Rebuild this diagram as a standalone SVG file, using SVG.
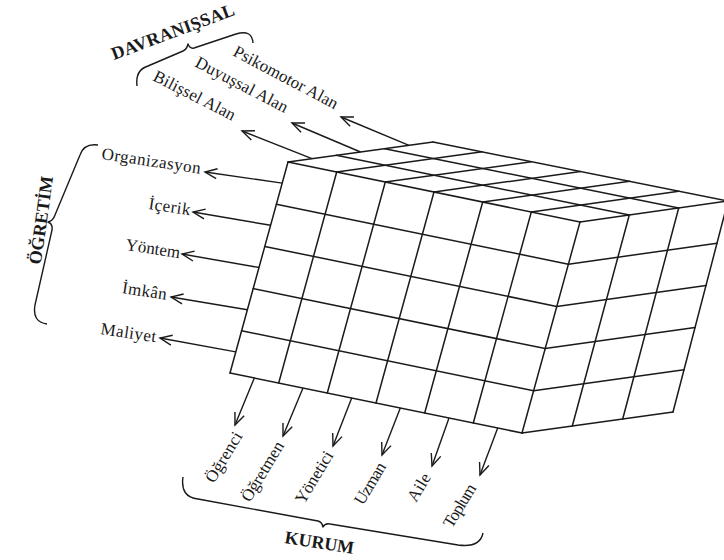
<svg xmlns="http://www.w3.org/2000/svg" width="724" height="560" viewBox="0 0 724 560">
  <style>
    .grid { fill: none; stroke: #1a1a1a; stroke-width: 1.5; stroke-linecap: round; }
    .face { fill: #ffffff; stroke: none; }
    .arrow { fill: none; stroke: #1a1a1a; stroke-width: 1.4; marker-end: url(#head); }
    .brace { fill: none; stroke: #1a1a1a; stroke-width: 1.4; stroke-linejoin: round; }
    .lbl { font-family: "Liberation Serif", "Times New Roman", serif; font-size: 17px; fill: #1a1a1a; }
    .ttl { font-family: "Liberation Serif", "Times New Roman", serif; font-size: 18px; font-weight: bold; fill: #1a1a1a; }
  </style>
  <defs>
    <marker id="head" viewBox="-13 -6 14 12" refX="0" refY="0" markerWidth="14" markerHeight="12" markerUnits="userSpaceOnUse" orient="auto" overflow="visible">
      <path d="M-12,-5 L0,0 L-12,5" fill="none" stroke="#1a1a1a" stroke-width="1.4" stroke-linejoin="miter"/>
    </marker>
  </defs>
  <rect width="724" height="560" fill="#ffffff"/>

  <!-- Cube: front face 6x5, top face 6x3, right face 3x5 -->
  <g id="cube">
    <polygon class="face" points="288,162 580,222 522,433 230,373"/>
    <polygon class="face" points="288,162 433,142 728,201 580,222"/>
    <polygon class="face" points="580,222 728,201 673,412 522,433"/>
    <g class="grid">
      <!-- front face columns -->
      <line x1="288" y1="162" x2="230" y2="373"/>
      <line x1="336.7" y1="172" x2="278.7" y2="383"/>
      <line x1="385.3" y1="182" x2="327.3" y2="393"/>
      <line x1="434" y1="192" x2="376" y2="403"/>
      <line x1="482.7" y1="202" x2="424.7" y2="413"/>
      <line x1="531.3" y1="212" x2="473.3" y2="423"/>
      <line x1="580" y1="222" x2="522" y2="433"/>
      <!-- front face rows -->
      <line x1="288" y1="162" x2="580" y2="222"/>
      <line x1="276.4" y1="204.2" x2="568.4" y2="264.2"/>
      <line x1="264.8" y1="246.4" x2="556.8" y2="306.4"/>
      <line x1="253.2" y1="288.6" x2="545.2" y2="348.6"/>
      <line x1="241.6" y1="330.8" x2="533.6" y2="390.8"/>
      <line x1="230" y1="373" x2="522" y2="433"/>
      <!-- top face, front-to-back -->
      <line x1="288" y1="162" x2="433" y2="142"/>
      <line x1="336.7" y1="172" x2="482.2" y2="151.8"/>
      <line x1="385.3" y1="182" x2="531.3" y2="161.7"/>
      <line x1="434" y1="192" x2="580.5" y2="171.5"/>
      <line x1="482.7" y1="202" x2="629.7" y2="181.3"/>
      <line x1="531.3" y1="212" x2="678.8" y2="191.2"/>
      <line x1="580" y1="222" x2="728" y2="201"/>
      <!-- top face, depth rows -->
      <line x1="336.3" y1="155.3" x2="629.3" y2="215"/>
      <line x1="384.7" y1="148.7" x2="678.7" y2="208"/>
      <line x1="433" y1="142" x2="728" y2="201"/>
      <!-- right face columns -->
      <line x1="629.3" y1="215" x2="572.3" y2="426"/>
      <line x1="678.7" y1="208" x2="622.7" y2="419"/>
      <line x1="728" y1="201" x2="673" y2="412"/>
      <!-- right face rows -->
      <line x1="568.4" y1="264.2" x2="717" y2="243.2"/>
      <line x1="556.8" y1="306.4" x2="706" y2="285.4"/>
      <line x1="545.2" y1="348.6" x2="695" y2="327.6"/>
      <line x1="533.6" y1="390.8" x2="684" y2="369.8"/>
      <line x1="522" y1="433" x2="673" y2="412"/>
    </g>
  </g>

  <!-- Connectors -->
  <g id="connectors">
    <!-- behavioural domains, from the top face edge -->
    <line class="arrow" x1="312" y1="158.7" x2="242" y2="131"/>
    <line class="arrow" x1="360.5" y1="152" x2="292" y2="123"/>
    <line class="arrow" x1="409" y1="145.3" x2="341" y2="117"/>
    <!-- instruction, from the left edge -->
    <line class="arrow" x1="282.2" y1="183.1" x2="205" y2="172"/>
    <line class="arrow" x1="270.6" y1="225.3" x2="193" y2="212"/>
    <line class="arrow" x1="259" y1="267.5" x2="182" y2="254"/>
    <line class="arrow" x1="247.4" y1="309.7" x2="171" y2="297"/>
    <line class="arrow" x1="235.8" y1="351.9" x2="160" y2="338"/>
    <!-- institution, from the bottom edge -->
    <line class="arrow" x1="254.3" y1="378" x2="235" y2="425"/>
    <line class="arrow" x1="303" y1="388" x2="283" y2="436"/>
    <line class="arrow" x1="351.7" y1="398" x2="333" y2="446"/>
    <line class="arrow" x1="400.3" y1="408" x2="382" y2="455"/>
    <line class="arrow" x1="449" y1="418" x2="432" y2="466"/>
    <line class="arrow" x1="497.7" y1="428" x2="480" y2="475"/>
  </g>

  <!-- Behavioural group -->
  <g id="davranissal">
    <path class="brace" d="M137,86 Q135,70 148,66 L183,51 Q187,49 188,44 Q190,49 194,48 L236,34 Q252,29 253,43"/>
    <text class="ttl" transform="translate(114,60) rotate(-20.4)" textLength="130" lengthAdjust="spacing">DAVRANIŞSAL</text>
  </g>
  <g id="bilissel"><text class="lbl" transform="translate(152,80) rotate(27)" textLength="90" lengthAdjust="spacing">Bilişsel Alan</text></g>
  <g id="duyussal"><text class="lbl" transform="translate(194,66) rotate(27.5)" textLength="102" lengthAdjust="spacing">Duyuşsal Alan</text></g>
  <g id="psikomotor"><text class="lbl" transform="translate(232,55) rotate(28)" textLength="116" lengthAdjust="spacing">Psikomotor Alan</text></g>

  <!-- Instruction group -->
  <g id="ogretim">
    <path class="brace" d="M98,145 Q84,143 80,155 L55,215 Q53,221 48,222 Q53,224 52,230 L35,305 Q32,322 47,324"/>
    <text class="ttl" transform="translate(47,221) rotate(-82)" text-anchor="middle">ÖĞRETİM</text>
  </g>
  <g id="organizasyon"><text class="lbl" transform="translate(101,159) rotate(8.5)" textLength="100" lengthAdjust="spacing">Organizasyon</text></g>
  <g id="icerik"><text class="lbl" transform="translate(148,209) rotate(8.5)" textLength="42" lengthAdjust="spacing">İçerik</text></g>
  <g id="yontem"><text class="lbl" transform="translate(125,250) rotate(8.5)" textLength="55" lengthAdjust="spacing">Yöntem</text></g>
  <g id="imkan"><text class="lbl" transform="translate(121.5,293) rotate(8.5)" textLength="45" lengthAdjust="spacing">İmkân</text></g>
  <g id="maliyet"><text class="lbl" transform="translate(100,334) rotate(8.5)" textLength="56" lengthAdjust="spacing">Maliyet</text></g>

  <!-- Institution group -->
  <g id="kurum">
    <path class="brace" d="M183,477 Q180,497 198,499 L318,521 Q322,522 323,527 Q325,523 330,524 L458,545 Q480,548 483,533"/>
    <text class="ttl" transform="translate(284,543) rotate(9)" textLength="70" lengthAdjust="spacing">KURUM</text>
  </g>
  <g id="ogrenci"><text class="lbl" transform="translate(214,484) rotate(-59)" textLength="56" lengthAdjust="spacing">Öğrenci</text></g>
  <g id="ogretmen"><text class="lbl" transform="translate(250,503) rotate(-59)" textLength="67" lengthAdjust="spacing">Öğretmen</text></g>
  <g id="yonetici"><text class="lbl" transform="translate(304,505) rotate(-59)" textLength="58" lengthAdjust="spacing">Yönetici</text></g>
  <g id="uzman"><text class="lbl" transform="translate(363,506) rotate(-59)" textLength="46" lengthAdjust="spacing">Uzman</text></g>
  <g id="aile"><text class="lbl" transform="translate(416,503) rotate(-59)" textLength="30" lengthAdjust="spacing">Aile</text></g>
  <g id="toplum"><text class="lbl" transform="translate(452,529) rotate(-59)" textLength="48" lengthAdjust="spacing">Toplum</text></g>
</svg>
